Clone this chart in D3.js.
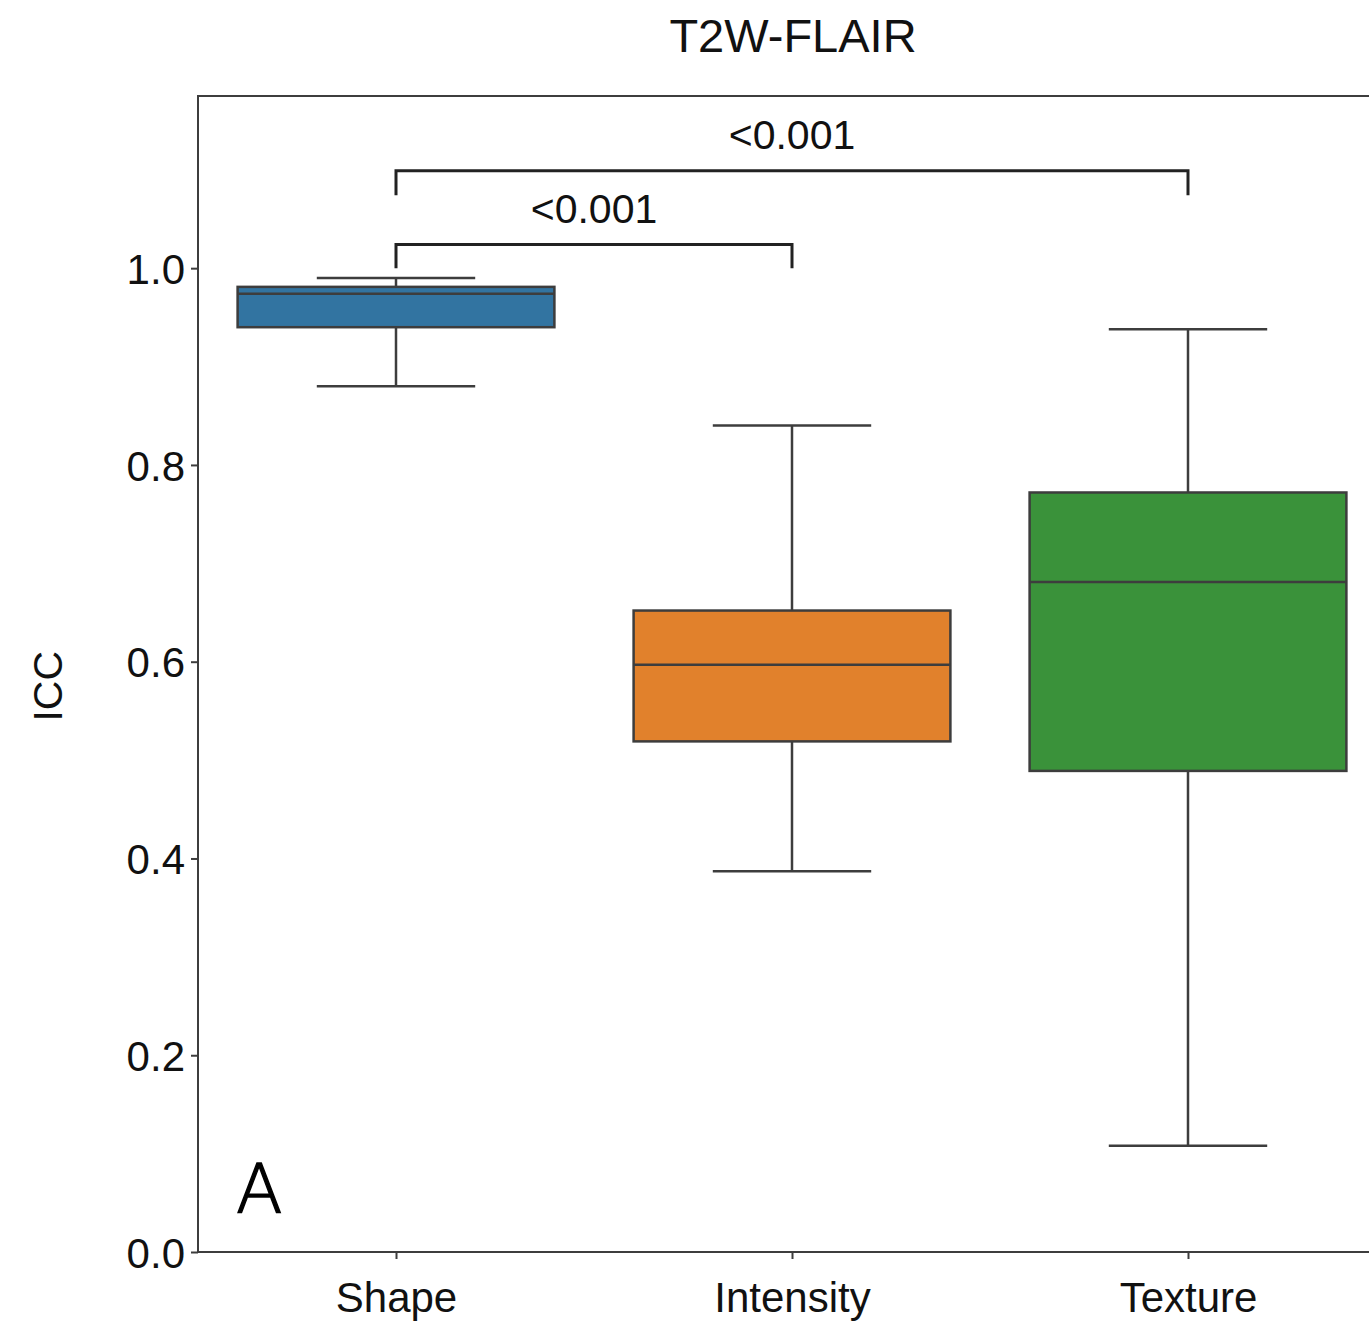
<!DOCTYPE html>
<html>
<head>
<meta charset="utf-8">
<script src="https://cdn.jsdelivr.net/npm/d3@7"></script>
<style>
  body { margin: 0; background: #fff; }
  svg { display: block; font-family: "Liberation Sans", Arial, sans-serif; }
</style>
</head>
<body>
<div id="chart"></div>
<script>
// Chart data
const categories = ["Shape", "Intensity", "Texture"];
const whiskerLow = [0.880, 0.387, 0.108];
const q1 = [0.940, 0.519, 0.489];
const median = [0.974, 0.597, 0.681];
const q3 = [0.981, 0.652, 0.772];
const whiskerHigh = [0.990, 0.840, 0.938];
const boxColors = ["#3274a1", "#e1812c", "#3a923a"];
const yTicks = [0.0, 0.2, 0.4, 0.6, 0.8, 1.0];

// Significance brackets: [from, to, bar level, leg bottom, label]
const brackets = [
  {from: "Shape", to: "Intensity", level: 1.024, leg: 1.0, label: "<0.001"},
  {from: "Shape", to: "Texture", level: 1.099, leg: 1.074, label: "<0.001"}
];

// Layout
const W = 1369;
const H = 1325;
const padLeft = 198;
const padTop = 96;
const plotW = 1188;
const plotH = 1156;
const lineColor = "#3d3d3d";

const svg = d3.select("#chart")
              .append("svg")
              .attr("width", W)
              .attr("height", H);

const xScale = d3.scalePoint()
                 .domain(categories)
                 .range([padLeft, padLeft + plotW])
                 .padding(0.5);

const yScale = d3.scaleLinear()
                 .domain([0, 1.175])
                 .range([padTop + plotH, padTop]);

const boxW = xScale.step() * 0.8;
const capW = boxW * 0.5;

// Title
svg.append("text")
   .attr("x", 793)
   .attr("y", 52)
   .attr("text-anchor", "middle")
   .style("font-size", "47px")
   .attr("fill", "#111")
   .text("T2W-FLAIR");

// Boxes
const data = categories.map((c, i) => ({
  cat: c, lo: whiskerLow[i], q1: q1[i], med: median[i], q3: q3[i], hi: whiskerHigh[i], color: boxColors[i]
}));

const g = svg.selectAll(".box")
             .data(data)
             .enter()
             .append("g")
             .attr("class", "box");

// whisker stems
g.append("line")
 .attr("x1", d => xScale(d.cat)).attr("x2", d => xScale(d.cat))
 .attr("y1", d => yScale(d.q3)).attr("y2", d => yScale(d.hi))
 .attr("stroke", lineColor).attr("stroke-width", 2.5);
g.append("line")
 .attr("x1", d => xScale(d.cat)).attr("x2", d => xScale(d.cat))
 .attr("y1", d => yScale(d.q1)).attr("y2", d => yScale(d.lo))
 .attr("stroke", lineColor).attr("stroke-width", 2.5);

// caps
g.append("line")
 .attr("x1", d => xScale(d.cat) - capW / 2).attr("x2", d => xScale(d.cat) + capW / 2)
 .attr("y1", d => yScale(d.hi)).attr("y2", d => yScale(d.hi))
 .attr("stroke", lineColor).attr("stroke-width", 2.5);
g.append("line")
 .attr("x1", d => xScale(d.cat) - capW / 2).attr("x2", d => xScale(d.cat) + capW / 2)
 .attr("y1", d => yScale(d.lo)).attr("y2", d => yScale(d.lo))
 .attr("stroke", lineColor).attr("stroke-width", 2.5);

// box
g.append("rect")
 .attr("x", d => xScale(d.cat) - boxW / 2)
 .attr("y", d => yScale(d.q3))
 .attr("width", boxW)
 .attr("height", d => yScale(d.q1) - yScale(d.q3))
 .attr("fill", d => d.color)
 .attr("stroke", lineColor)
 .attr("stroke-width", 2.5);

// median
g.append("line")
 .attr("x1", d => xScale(d.cat) - boxW / 2).attr("x2", d => xScale(d.cat) + boxW / 2)
 .attr("y1", d => yScale(d.med)).attr("y2", d => yScale(d.med))
 .attr("stroke", lineColor).attr("stroke-width", 2.5);

// Frame
svg.append("rect")
   .attr("x", padLeft)
   .attr("y", padTop)
   .attr("width", plotW)
   .attr("height", plotH)
   .attr("fill", "none")
   .attr("stroke", lineColor)
   .attr("stroke-width", 2);

// Axes
const yAxis = d3.axisLeft(yScale)
                .tickValues(yTicks)
                .tickFormat(d3.format(".1f"))
                .tickSize(7)
                .tickPadding(6);

const xAxis = d3.axisBottom(xScale)
                .tickSize(7)
                .tickPadding(21);

const ya = svg.append("g")
              .attr("transform", "translate(" + padLeft + ",0)")
              .call(yAxis);
const xa = svg.append("g")
              .attr("transform", "translate(0," + (padTop + plotH) + ")")
              .call(xAxis);

[ya, xa].forEach(a => {
  a.select(".domain").remove();
  a.selectAll("line").attr("stroke", lineColor).attr("stroke-width", 2);
  a.selectAll("text")
   .style("font-family", "'Liberation Sans', Arial, sans-serif")
   .style("font-size", "42px")
   .attr("fill", "#111");
});
ya.selectAll("text").attr("dy", "0.36em");
xa.selectAll("text").attr("dy", "0.76em");

// Y label
svg.append("text")
   .attr("transform", "translate(62," + yScale(0.575) + ") rotate(-90)")
   .attr("text-anchor", "middle")
   .style("font-size", "41px")
   .attr("fill", "#111")
   .text("ICC");

// Brackets
brackets.forEach(b => {
  const x1 = xScale(b.from);
  const x2 = xScale(b.to);
  const yb = yScale(b.level);
  const yl = yScale(b.leg);
  svg.append("path")
     .attr("d", "M" + x1 + "," + yl + "V" + yb + "H" + x2 + "V" + yl)
     .attr("fill", "none")
     .attr("stroke", "#222")
     .attr("stroke-width", 3);
  svg.append("text")
     .attr("x", (x1 + x2) / 2)
     .attr("y", yb - 22)
     .attr("text-anchor", "middle")
     .style("font-size", "41px")
     .attr("fill", "#111")
     .text(b.label);
});

// Panel letter
svg.append("text")
   .attr("x", 236)
   .attr("y", 1213)
   .style("font-family", "'DejaVu Sans', sans-serif")
   .style("font-size", "68px")
   .style("font-weight", "300")
   .attr("fill", "#000")
   .attr("stroke", "#000")
   .attr("stroke-width", 1.4)
   .text("A");
</script>
</body>
</html>
